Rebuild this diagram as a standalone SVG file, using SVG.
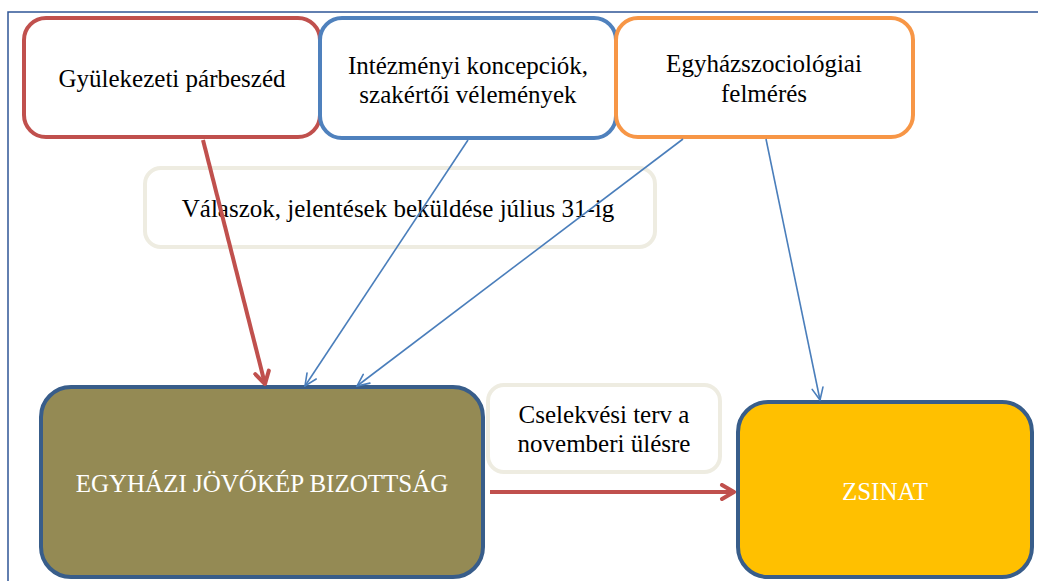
<svg xmlns="http://www.w3.org/2000/svg" width="1038" height="581" viewBox="0 0 1038 581">
<style>
  text { font-family: 'Liberation Serif', 'DejaVu Serif', serif; font-size: 25px; fill: #000; text-anchor: middle; }
  .white { fill: #ffffff; }
  .box { stroke-width: 4; }
  .lbl { fill: #ffffff; stroke: #eeece1; stroke-width: 4; }
  .red { stroke: #c0504d; stroke-width: 4; fill: none; }
  .blue { stroke: #4a7ebb; stroke-width: 1.6; fill: none; }
</style>
<defs>
  <marker id="ahRed" markerUnits="userSpaceOnUse" viewBox="0 0 18 18" markerWidth="18" markerHeight="18" refX="15" refY="9" orient="auto">
    <path d="M3,2 L15,9 L3,16" fill="none" stroke="#c0504d" stroke-width="4" stroke-linecap="round" stroke-linejoin="round"/>
  </marker>
  <marker id="ahBlue" markerUnits="userSpaceOnUse" viewBox="0 0 14 14" markerWidth="14" markerHeight="14" refX="13" refY="7" orient="auto">
    <path d="M1,1.5 L13,7 L1,12.5" fill="none" stroke="#4a7ebb" stroke-width="1.6" stroke-linecap="round"/>
  </marker>
</defs>
<rect width="1038" height="581" fill="#ffffff"/>
<g id="frame">
  <path d="M8,581 L8,12 L1038,12" fill="none" stroke="#2f5597" stroke-width="1.5"/>
</g>
<g id="node-gyulekezeti">
  <rect class="box" x="24" y="18" width="296" height="119" rx="22" fill="#ffffff" stroke="#c0504d"/>
  <text x="172" y="87">Gyülekezeti párbeszéd</text>
</g>
<g id="node-intezmenyi">
  <rect class="box" x="320" y="18" width="296" height="120" rx="22" fill="#ffffff" stroke="#4f81bd"/>
  <text x="468" y="74">Intézményi koncepciók,</text>
  <text x="468" y="103">szakértői vélemények</text>
</g>
<g id="node-egyhazszociologiai">
  <rect class="box" x="616" y="18" width="297" height="119" rx="22" fill="#ffffff" stroke="#f79646"/>
  <text x="764" y="72">Egyházszociológiai</text>
  <text x="764" y="102">felmérés</text>
</g>
<g id="label-valaszok">
  <rect class="lbl" x="145" y="168" width="510" height="79" rx="16"/>
  <text x="398" y="217">Válaszok, jelentések beküldése július 31-ig</text>
</g>
<g id="label-cselekvesi">
  <rect class="lbl" x="488" y="385" width="232" height="87" rx="16"/>
  <text x="604" y="423">Cselekvési terv a</text>
  <text x="604" y="452">novemberi ülésre</text>
</g>
<g id="node-bizottsag">
  <rect class="box" x="41" y="387" width="442" height="190" rx="30" fill="#948a54" stroke="#385d8a"/>
  <text class="white" x="262" y="492">EGYHÁZI JÖVŐKÉP BIZOTTSÁG</text>
</g>
<g id="node-zsinat">
  <rect class="box" x="738" y="402" width="294" height="175" rx="30" fill="#ffc000" stroke="#385d8a"/>
  <text class="white" x="885" y="500">ZSINAT</text>
</g>
<g id="connectors">
  <line class="red" x1="203" y1="140" x2="265" y2="384" marker-end="url(#ahRed)"/>
  <line class="blue" x1="468" y1="140" x2="305" y2="386" marker-end="url(#ahBlue)"/>
  <line class="blue" x1="683" y1="139" x2="357" y2="386" marker-end="url(#ahBlue)"/>
  <line class="blue" x1="766" y1="139" x2="820" y2="400" marker-end="url(#ahBlue)"/>
  <line class="red" x1="490" y1="492" x2="734" y2="492" marker-end="url(#ahRed)"/>
</g>
</svg>
